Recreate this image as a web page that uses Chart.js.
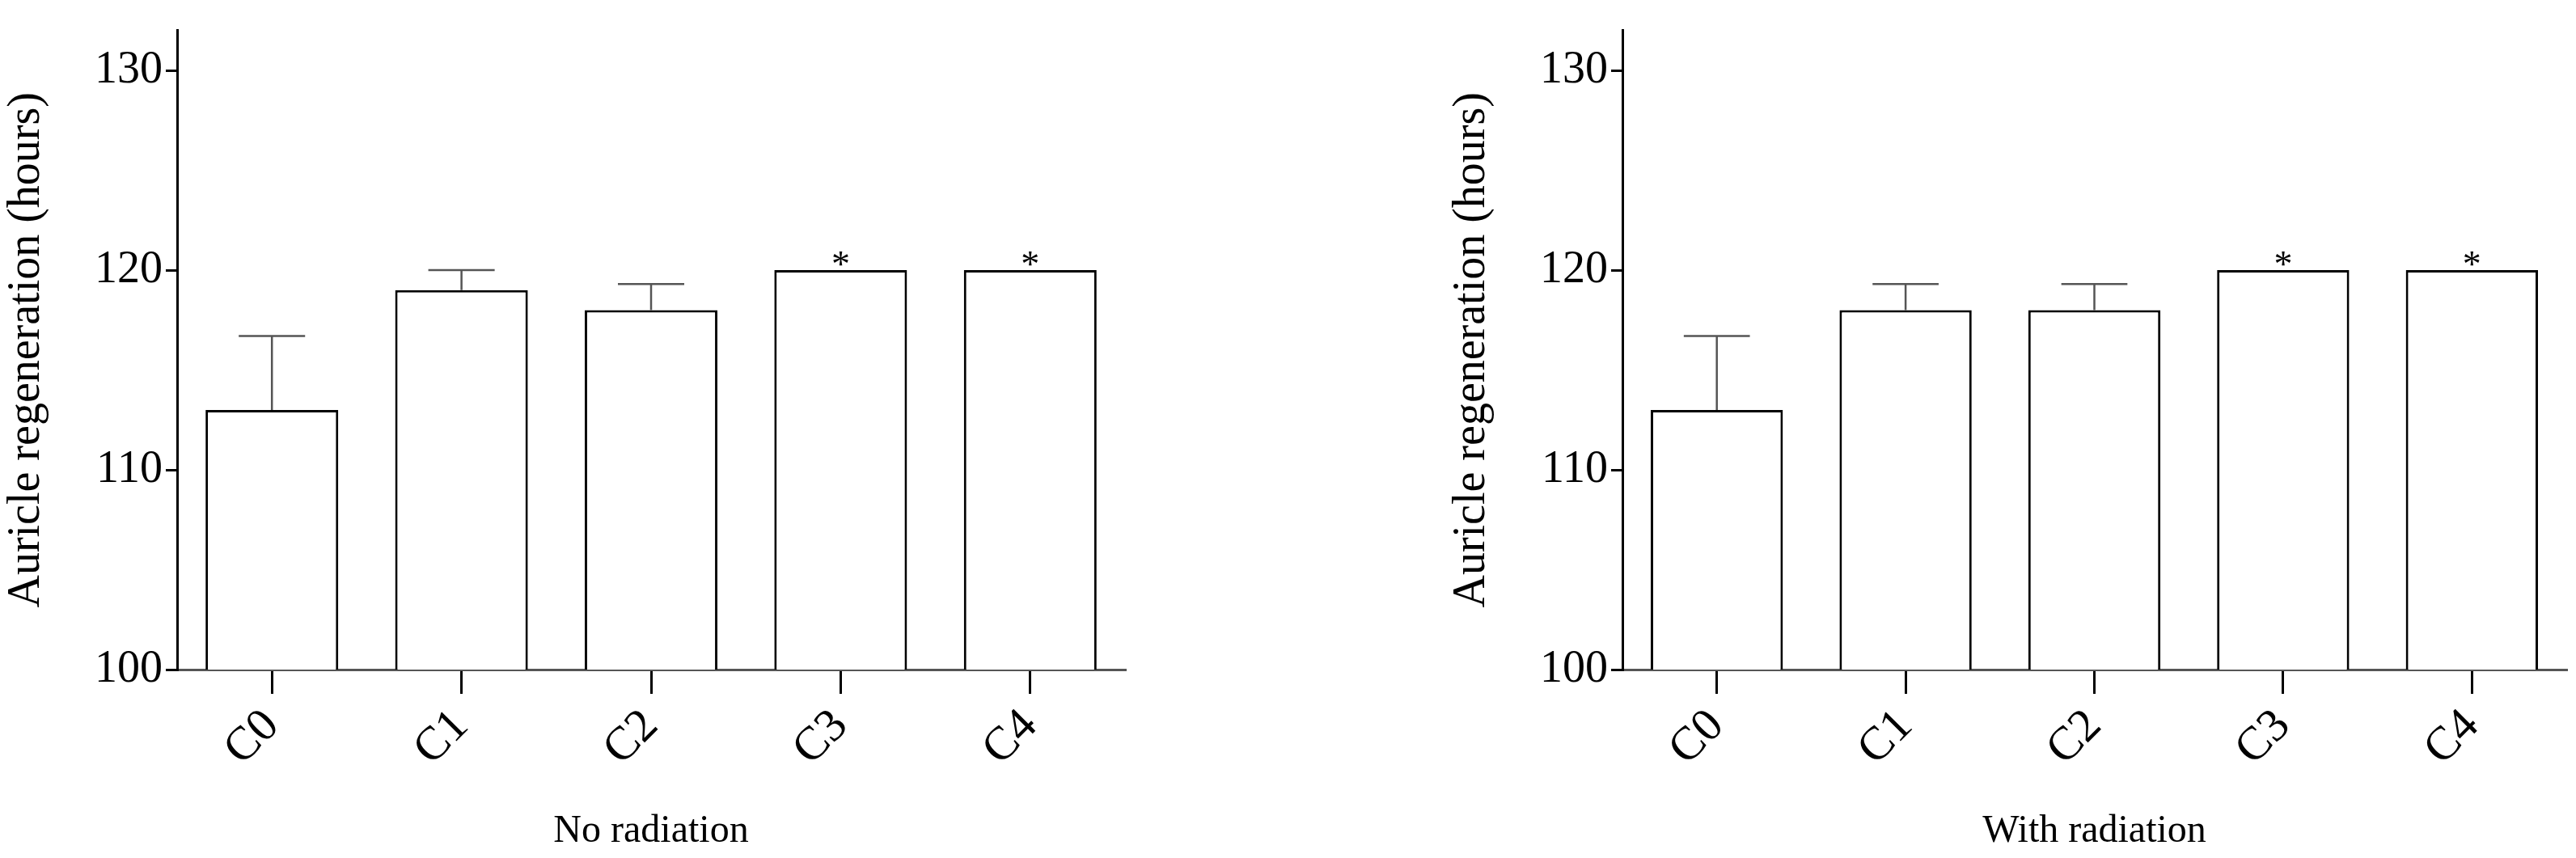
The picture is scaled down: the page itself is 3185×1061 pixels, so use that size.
<!DOCTYPE html>
<html>
<head>
<meta charset="utf-8">
<script src="https://cdn.jsdelivr.net/npm/chart.js@4.4.1/dist/chart.umd.min.js"></script>
<style>
  body { margin: 0; background: #fff; width: 3185px; height: 1061px; position: relative; overflow: hidden; }
  .box { position: absolute; top: 0; height: 1061px; }
</style>
</head>
<body>
<div class="box" style="left:0;width:1401px"><canvas id="left"></canvas></div>
<div class="box" style="left:1787px;width:1396px"><canvas id="right"></canvas></div>
<script>
// 데이터
const categories = ['C0', 'C1', 'C2', 'C3', 'C4'];
const noRadMean = [113, 119, 118, 120, 120];
const noRadErrTop = [116.7, 120, 119.3, 120, 120];
const withRadMean = [113, 118, 118, 120, 120];
const withRadErrTop = [116.7, 119.3, 119.3, 120, 120];
const stars = ['', '', '', '*', '*'];
const yTicks = [100, 110, 120, 130];

// 오차 막대 + 별표 플러그인
const errorPlugin = {
  id: 'errorBars',
  afterDatasetsDraw(chart, args, opts) {
    const ctx = chart.ctx;
    const y = chart.scales.y;
    const meta = chart.getDatasetMeta(0);
    ctx.save();
    meta.data.forEach((bar, i) => {
      const top = opts.errTop[i];
      const half = bar.width * 0.25;
      if (top > opts.mean[i]) {
        ctx.strokeStyle = '#555';
        ctx.lineWidth = 2.5;
        ctx.beginPath();
        ctx.moveTo(bar.x, y.getPixelForValue(opts.mean[i]));
        ctx.lineTo(bar.x, y.getPixelForValue(top));
        ctx.moveTo(bar.x - half, y.getPixelForValue(top));
        ctx.lineTo(bar.x + half, y.getPixelForValue(top));
        ctx.stroke();
      }
      if (stars[i]) {
        ctx.fillStyle = '#000';
        ctx.font = '46px "Liberation Serif"';
        ctx.textAlign = 'center';
        ctx.textBaseline = 'alphabetic';
        ctx.fillText(stars[i], bar.x, y.getPixelForValue(top) + 8);
      }
    });
    ctx.restore();
  }
};

function makeChart(id, mean, errTop, title) {
  new Chart(document.getElementById(id), {
    type: 'bar',
    data: {
      labels: categories,
      datasets: [{
        data: mean,
        backgroundColor: '#fff',
        borderColor: '#000',
        borderWidth: 3,
        borderSkipped: 'bottom',
        categoryPercentage: 0.7,
        barPercentage: 1.0
      }]
    },
    options: {
      responsive: true,
      maintainAspectRatio: false,
      animation: false,
      layout: { padding: { top: 0, right: 10, left: 0, bottom: 0 } },
      plugins: {
        legend: { display: false },
        tooltip: { enabled: false },
        errorBars: { mean: mean, errTop: errTop }
      },
      scales: {
        x: {
          grid: { display: true, drawOnChartArea: false, color: '#000', lineWidth: 3, tickLength: 30, offset: false },
          border: { color: '#555', width: 3 },
          ticks: { color: '#000', font: { family: 'Liberation Serif', size: 58 }, minRotation: 45, maxRotation: 45, padding: 6 },
          title: { display: true, text: title, color: '#000', font: { family: 'Liberation Serif', size: 48 }, padding: { top: 20 } },
          afterFit: s => { s.height = 233; }
        },
        y: {
          min: 100, max: 132,
          afterBuildTicks: s => { s.ticks = yTicks.map(v => ({ value: v })); },
          grid: { display: true, drawOnChartArea: false, color: '#000', lineWidth: 3, tickLength: 14 },
          border: { color: '#000', width: 3 },
          ticks: { color: '#000', font: { family: 'Liberation Serif', size: 56 }, padding: 4 },
          title: { display: true, text: 'Auricle regeneration (hours)', color: '#000', font: { family: 'Liberation Serif', size: 56 }, padding: 0 },
          afterFit: s => { s.width = 219; }
        }
      }
    },
    plugins: [errorPlugin]
  });
}

makeChart('left', noRadMean, noRadErrTop, 'No radiation');
makeChart('right', withRadMean, withRadErrTop, 'With radiation');
</script>
</body>
</html>
